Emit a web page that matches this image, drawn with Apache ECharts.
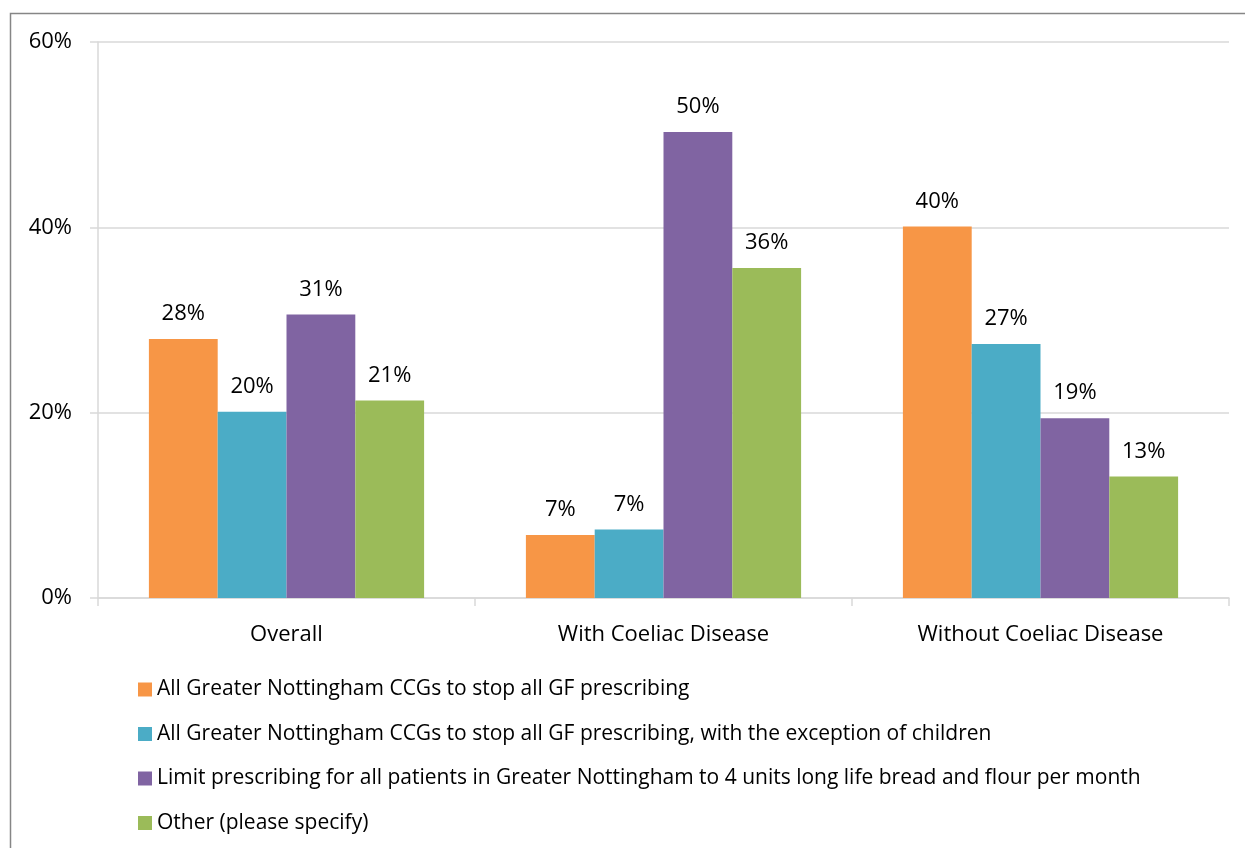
<!DOCTYPE html>
<html><head><meta charset="utf-8">
<script src="https://cdn.jsdelivr.net/npm/echarts@6/dist/echarts.min.js"></script>
<style>html,body{margin:0;padding:0;background:#fff}#c{width:1245px;height:848px}</style>
</head><body><div id="c"></div>
<script>
const categories = ['Overall', 'With Coeliac Disease', 'Without Coeliac Disease'];
const seriesNames = [
  'All Greater Nottingham CCGs to stop all GF prescribing',
  'All Greater Nottingham CCGs to stop all GF prescribing, with the exception of children',
  'Limit prescribing for all patients in Greater Nottingham to 4 units long life bread and flour per month',
  'Other (please specify)'
];
const stopAll = [27.95, 6.8, 40.1];
const stopExceptChildren = [20.1, 7.4, 27.4];
const limitPrescribing = [30.6, 50.3, 19.4];
const other = [21.3, 35.6, 13.1];
const yTicks = [0, 20, 40, 60];
const colors = ['#F79646', '#4BACC6', '#8064A2', '#9BBB59'];

const FONT = 'Open Sans';
const chart = echarts.init(document.getElementById('c'), null, {renderer: 'canvas'});
const values = [stopAll, stopExceptChildren, limitPrescribing, other];
chart.setOption({
  animation: false,
  textStyle: {fontFamily: FONT},
  graphic: [{type: 'rect', shape: {x: 10.5, y: 13.5, width: 1300, height: 900},
    style: {fill: null, stroke: '#868686', lineWidth: 1.5}, silent: true}],
  grid: {left: 98, right: 16, top: 42, bottom: 250, containLabel: false},
  legend: {
    orient: 'vertical', left: 138, top: 679, padding: 0, itemWidth: 14, itemHeight: 14, itemGap: 23.5,
    icon: 'rect', textStyle: {fontFamily: FONT, fontSize: 21, color: '#000', padding: [0, 0, 0, 0]},
    data: seriesNames
  },
  xAxis: {
    type: 'category', data: categories,
    axisLine: {lineStyle: {color: '#D9D9D9', width: 1.5}},
    axisTick: {show: true, length: 8, lineStyle: {color: '#D9D9D9', width: 1.5}},
    axisLabel: {fontFamily: FONT, fontSize: 22, color: '#000', margin: 26}
  },
  yAxis: {
    type: 'value', min: 0, max: 60, interval: 20,
    axisLine: {show: true, lineStyle: {color: '#D9D9D9', width: 1.5}},
    axisTick: {show: true, length: 8, lineStyle: {color: '#D9D9D9', width: 1.5}},
    splitLine: {lineStyle: {color: '#D9D9D9', width: 1.5}},
    axisLabel: {fontFamily: FONT, fontSize: 22, color: '#000', margin: 26,
      formatter: v => yTicks.includes(v) ? v + '%' : ''}
  },
  series: seriesNames.map((n, i) => ({
    name: n, type: 'bar', data: values[i],
    barGap: '0%', barCategoryGap: '27%',
    itemStyle: {color: colors[i]},
    label: {show: true, position: 'top', distance: 14, fontFamily: FONT, fontSize: 22, color: '#000',
      formatter: p => Math.round(p.value) + '%'}
  }))
});
</script></body></html>
